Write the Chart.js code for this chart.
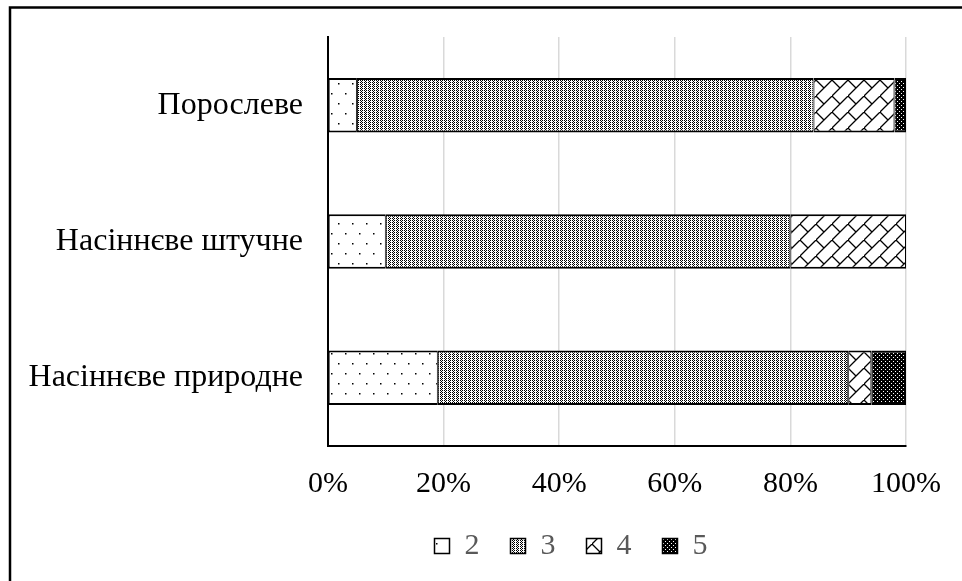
<!DOCTYPE html>
<html>
<head>
<meta charset="utf-8">
<script src="https://cdn.jsdelivr.net/npm/chart.js@4.4.1/dist/chart.umd.min.js"></script>
<style>
  html, body { margin: 0; padding: 0; background: #fff; }
  #wrap { width: 962px; height: 581px; position: relative; }
</style>
</head>
<body>
<div id="wrap"><canvas id="chart"></canvas></div>
<script>
const categories = ["Порослеве", "Насіннєве штучне", "Насіннєве природне"];
const seriesNames = ["2", "3", "4", "5"];
const grade2 = [5, 10, 19];
const grade3 = [79, 70, 71];
const grade4 = [14, 20, 4];
const grade5 = [2, 0, 6];
const xTicks = [0, 20, 40, 60, 80, 100];

const serif = "'Liberation Serif', 'Times New Roman', serif";
const legendOffset = 113; // legend sits right of centre in the original

function makePattern(w, h, draw) {
    const c = document.createElement("canvas");
    c.width = w;
    c.height = h;
    const g = c.getContext("2d");
    draw(g, w, h);
    return g.createPattern(c, "repeat");
}

const ctx = document.getElementById("chart").getContext("2d");

// sparse dots on white
const pat2 = makePattern(14, 20, (g, w, h) => {
    g.fillStyle = "#fff";
    g.fillRect(0, 0, w, h);
    g.fillStyle = "#000";
    g.fillRect(2, 3, 1.5, 1.5);
    g.fillRect(9, 13, 1.5, 1.5);
});

// dense fine dots
const pat3 = makePattern(4, 4, (g, w, h) => {
    g.fillStyle = "#fff";
    g.fillRect(0, 0, w, h);
    g.fillStyle = "#000";
    [[0, 0], [0, 2], [1, 1], [1, 3], [2, 0], [2, 2]].forEach(p => g.fillRect(p[0], p[1], 1, 1));
});

// diagonal brick
const pat4 = makePattern(16, 16, (g, w, h) => {
    g.fillStyle = "#fff";
    g.fillRect(0, 0, w, h);
    g.strokeStyle = "#000";
    g.lineWidth = 1.3;
    g.beginPath();
    g.moveTo(-1, 17); g.lineTo(17, -1);
    g.moveTo(0, 0); g.lineTo(8, 8);
    g.stroke();
});

// black with white dots
const pat5 = makePattern(4, 4, (g, w, h) => {
    g.fillStyle = "#000";
    g.fillRect(0, 0, w, h);
    g.fillStyle = "#fff";
    g.fillRect(1, 1, 1, 1);
    g.fillRect(3, 3, 1, 1);
});

const patterns = [pat2, pat3, pat4, pat5];
const values = [grade2, grade3, grade4, grade5];

const frame = {
    id: "frame",
    beforeDraw(chart) {
        const c = chart.ctx;
        c.save();
        c.fillStyle = "#fff";
        c.fillRect(0, 0, chart.width, chart.height);
        c.strokeStyle = "#000";
        c.lineWidth = 2.5;
        c.beginPath();
        c.moveTo(10, chart.height);
        c.lineTo(10, 7.5);
        c.lineTo(chart.width, 7.5);
        c.stroke();
        c.restore();
    }
};

const legendShift = {
    id: "legendShift",
    afterLayout(chart) {
        chart.legend.left += legendOffset;
        chart.legend.right += legendOffset;
    }
};

new Chart(ctx, {
    type: "bar",
    data: {
        labels: categories,
        datasets: seriesNames.map((name, i) => ({
            label: name,
            data: values[i],
            backgroundColor: patterns[i],
            borderColor: "#000",
            borderWidth: { top: 2, bottom: 2, left: 1, right: 1 },
            borderSkipped: false,
            categoryPercentage: 1,
            barPercentage: 0.4
        }))
    },
    options: {
        indexAxis: "y",
        responsive: true,
        maintainAspectRatio: false,
        animation: false,
        layout: { padding: { top: 37, bottom: 10, left: 10, right: 56 } },
        scales: {
            x: {
                stacked: true,
                min: 0,
                max: 100,
                afterBuildTicks: s => { s.ticks = xTicks.map(v => ({ value: v })); },
                afterFit: s => { s.height = 54; },
                ticks: {
                    callback: v => v + "%",
                    color: "#000",
                    font: { family: serif, size: 30 },
                    padding: 20,
                    maxRotation: 0
                },
                grid: {
                    color: c => (c.tick && c.tick.value === 0) ? "rgba(0,0,0,0)" : "#d9d9d9",
                    lineWidth: 1.5,
                    drawTicks: false
                },
                border: { color: "#000", width: 2 }
            },
            y: {
                stacked: true,
                afterFit: s => {
                    s.width = 318;
                    s.paddingTop = 0;
                    s.paddingBottom = 0;
                },
                ticks: {
                    color: "#000",
                    font: { family: serif, size: 32 },
                    padding: 25
                },
                grid: { display: false, drawTicks: false },
                border: { color: "#000", width: 2 }
            }
        },
        plugins: {
            legend: {
                position: "bottom",
                labels: {
                    boxWidth: 15,
                    boxHeight: 15,
                    padding: 31,
                    color: "#595959",
                    font: { family: serif, size: 30 }
                }
            },
            tooltip: { enabled: false }
        }
    },
    plugins: [frame, legendShift]
});
</script>
</body>
</html>
